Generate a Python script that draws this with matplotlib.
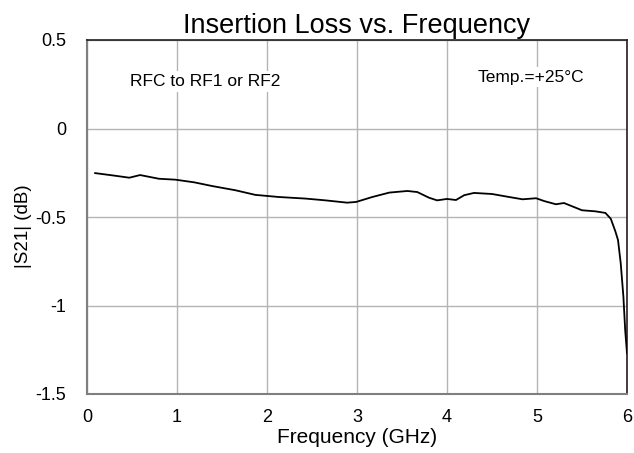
import matplotlib
matplotlib.use("Agg")
import matplotlib.pyplot as plt

freq_ghz = [0.09, 0.30, 0.47, 0.59, 0.80, 0.98, 1.19, 1.39, 1.65, 1.87,
            2.13, 2.43, 2.65, 2.89, 2.99, 3.17, 3.36, 3.56, 3.67, 3.80,
            3.89, 4.00, 4.10, 4.19, 4.30, 4.50, 4.69, 4.84, 4.99, 5.08,
            5.21, 5.30, 5.50, 5.65, 5.76, 5.82, 5.87, 5.90, 5.93, 5.96,
            5.98, 6.00]
s21_db = [-0.252, -0.266, -0.278, -0.263, -0.284, -0.289, -0.304, -0.325, -0.349, -0.375,
          -0.387, -0.396, -0.406, -0.419, -0.415, -0.387, -0.362, -0.353, -0.359, -0.391,
          -0.406, -0.398, -0.404, -0.377, -0.364, -0.370, -0.387, -0.400, -0.394, -0.410,
          -0.428, -0.421, -0.462, -0.468, -0.477, -0.510, -0.580, -0.630, -0.760, -0.950,
          -1.140, -1.270]

xticks = [0, 1, 2, 3, 4, 5, 6]
yticks = [-1.5, -1, -0.5, 0, 0.5]
ytick_labels = ["-1.5", "-1", "-0.5", "0", "0.5"]

plt.rcParams["font.family"] = ["Liberation Sans", "DejaVu Sans"]

fig = plt.figure(figsize=(6.34, 4.53), dpi=100)
ax = fig.add_axes([87 / 634, 1 - 394 / 453, (627 - 87) / 634, (394 - 40) / 453])

ax.plot(freq_ghz, s21_db, color="black", lw=1.3, zorder=3)

ax.set_xlim(0, 6)
ax.set_ylim(-1.5, 0.5)
ax.set_xticks(xticks)
ax.set_yticks(yticks)
ax.set_yticklabels(ytick_labels)
ax.tick_params(length=0, labelsize=13)
ax.tick_params(axis="y", pad=15)
ax.tick_params(axis="x", pad=11)
ax.grid(color="#b4b4b4", lw=1.0)

for s in ["left", "bottom"]:
    ax.spines[s].set_color("#7f7f7f")
    ax.spines[s].set_linewidth(1.5)
for s in ["top", "right"]:
    ax.spines[s].set_color("#202020")
    ax.spines[s].set_linewidth(1.2)

ax.set_title("Insertion Loss vs. Frequency", fontsize=19.5, pad=5)
ax.set_xlabel("Frequency (GHz)", fontsize=15, labelpad=1)
fig.text(23.5 / 634, 1 - 226 / 453, "|S21| (dB)", fontsize=13.5,
         rotation=90, ha="center", va="center")

box = dict(facecolor="white", edgecolor="none", pad=2)
ax.text(1.31, 0.265, "RFC to RF1 or RF2", fontsize=12.5, ha="center", va="center", bbox=box, zorder=4)
ax.text(5.52, 0.29, "Temp.=+25°C", fontsize=12.5, ha="right", va="center", bbox=box, zorder=4)

fig.savefig("out.png", dpi=100)
